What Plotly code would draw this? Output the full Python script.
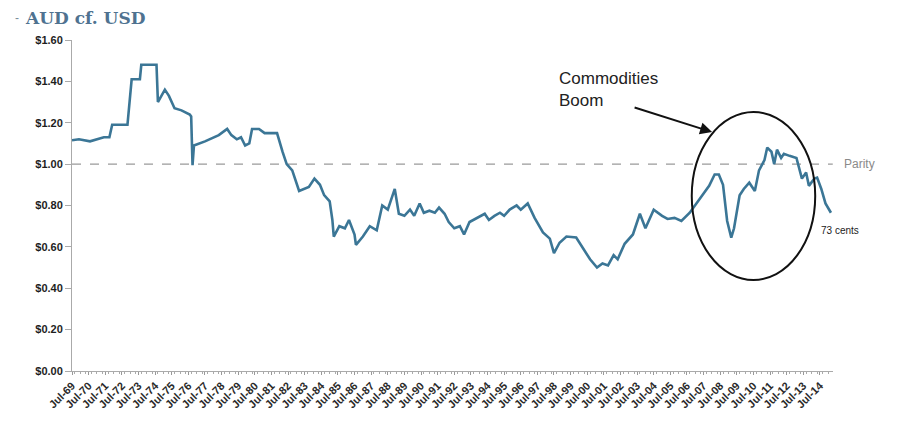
import plotly.graph_objects as go

# Monthly AUD/USD readings (US dollars per Australian dollar)
dates = [
    "1969-07", "1969-12", "1970-08", "1971-01", "1971-06", "1971-10", "1971-12",
    "1972-11", "1972-12", "1973-02", "1973-08", "1973-09", "1974-08", "1974-09",
    "1975-02", "1975-05", "1975-09", "1976-02", "1976-08", "1976-09", "1976-10",
    "1976-11", "1977-07", "1978-02", "1978-05", "1978-11", "1979-02", "1979-06",
    "1979-09", "1979-12", "1980-03", "1980-05", "1980-10", "1981-02", "1981-11",
    "1982-03", "1982-06", "1982-10", "1983-03", "1983-10", "1984-02", "1984-06",
    "1984-09", "1985-01", "1985-03", "1985-04", "1985-08", "1985-12", "1986-03",
    "1986-07", "1986-08", "1987-01", "1987-06", "1987-11", "1988-03", "1988-07",
    "1988-12", "1989-03", "1989-07", "1989-11", "1990-02", "1990-06", "1990-09",
    "1991-01", "1991-05", "1991-08", "1991-12", "1992-03", "1992-07", "1992-11",
    "1993-02", "1993-06", "1993-12", "1994-05", "1994-08", "1994-12", "1995-04",
    "1995-07", "1995-11", "1996-04", "1996-07", "1996-12", "1997-05", "1997-11",
    "1998-04", "1998-07", "1998-11", "1999-04", "1999-11", "2000-04", "2000-09",
    "2001-02", "2001-06", "2001-10", "2002-02", "2002-05", "2002-10", "2003-04",
    "2003-09", "2004-01", "2004-07", "2005-01", "2005-05", "2005-10", "2006-03",
    "2006-09", "2007-02", "2007-06", "2007-11", "2008-03", "2008-06", "2008-09",
    "2008-12", "2009-03", "2009-05", "2009-09", "2009-12", "2010-04", "2010-08",
    "2010-11", "2011-03", "2011-05", "2011-08", "2011-10", "2011-12", "2012-03",
    "2012-05", "2012-09", "2013-02", "2013-06", "2013-09", "2013-11", "2014-03",
    "2014-05", "2014-08", "2014-11", "2015-03",
]
aud_usd = [
    1.115, 1.12, 1.11, 1.12, 1.13, 1.13, 1.19,
    1.19, 1.27, 1.41, 1.41, 1.48, 1.48, 1.30,
    1.36, 1.33, 1.27, 1.26, 1.24, 1.23, 0.995,
    1.09, 1.11, 1.13, 1.14, 1.17, 1.14, 1.12,
    1.13, 1.09, 1.10, 1.17, 1.17, 1.15, 1.15,
    1.06, 1.00, 0.97, 0.87, 0.89, 0.93, 0.90,
    0.85, 0.82, 0.73, 0.65, 0.70, 0.69, 0.73,
    0.66, 0.61, 0.65, 0.70, 0.68, 0.80, 0.78,
    0.88, 0.76, 0.75, 0.78, 0.75, 0.81, 0.765,
    0.775, 0.765, 0.79, 0.76, 0.72, 0.69, 0.70,
    0.66, 0.72, 0.74, 0.76, 0.73, 0.75, 0.765,
    0.75, 0.78, 0.80, 0.78, 0.81, 0.74, 0.67,
    0.64, 0.57, 0.62, 0.65, 0.645, 0.59, 0.54,
    0.50, 0.52, 0.51, 0.56, 0.54, 0.615, 0.66,
    0.76, 0.69, 0.78, 0.75, 0.735, 0.74, 0.725,
    0.765, 0.81, 0.845, 0.895, 0.95, 0.95, 0.90,
    0.725, 0.645, 0.69, 0.85, 0.88, 0.91, 0.87,
    0.97, 1.02, 1.08, 1.06, 1.00, 1.07, 1.03,
    1.05, 1.04, 1.03, 0.93, 0.96, 0.895, 0.93,
    0.935, 0.88, 0.81, 0.765,
]

tick_years = list(range(1969, 2015))
tick_dates = [f"{y}-07-01" for y in tick_years]
tick_labels = [f"Jul-{y % 100:02d}" for y in tick_years]

y_ticks = [0.0, 0.2, 0.4, 0.6, 0.8, 1.0, 1.2, 1.4, 1.6]
y_labels = [f"${v:.2f}" for v in y_ticks]

parity = 1.00
end_label = "73 cents"

fig = go.Figure()

# Parity reference line
fig.add_trace(go.Scatter(
    x=["1969-07-01", "2015-04-10"], y=[parity, parity], mode="lines",
    line=dict(color="#9a9a9a", width=1.2, dash="dash"),
    hoverinfo="skip", showlegend=False,
))

fig.add_trace(go.Scatter(
    x=dates, y=aud_usd, mode="lines",
    line=dict(color="#3b7696", width=2.6),
    showlegend=False,
))

fig.update_layout(
    width=906, height=422,
    margin=dict(l=72, r=73, t=40, b=51),
    paper_bgcolor="white", plot_bgcolor="white",
    font=dict(family="Liberation Sans, Arial, sans-serif", color="#222"),
    xaxis=dict(
        type="date", range=["1969-07-01", "2015-04-15"],
        tickmode="array", tickvals=tick_dates, ticktext=tick_labels,
        tickangle=-45, tickfont=dict(size=11, color="#2a2a2a", weight="bold"),
        ticks="outside", ticklen=3, tickcolor="#999",
        minor=dict(dtick="M4", ticks="outside", ticklen=2, tickcolor="#aaa"),
        showline=True, linecolor="#aaa", linewidth=1,
        showgrid=False, zeroline=False, automargin=False,
    ),
    yaxis=dict(
        range=[0, 1.6], tickmode="array", tickvals=y_ticks, ticktext=y_labels,
        tickfont=dict(size=11, color="#1e1e1e", weight="bold"),
        ticks="outside", ticklen=6, tickcolor="#aaa",
        showline=True, linecolor="#aaa", linewidth=1,
        showgrid=False, zeroline=False, automargin=False,
    ),
)

# Highlight ellipse around the boom years
fig.add_shape(
    type="circle", xref="x", yref="y",
    x0="2006-10-15", x1="2014-03-20", y0=0.44, y1=1.252,
    line=dict(color="#111", width=2),
)

fig.add_annotation(
    x="2008-01-05", y=1.155, xref="x", yref="y",
    ax=-79, ay=-25, showarrow=True,
    arrowhead=2, arrowsize=1.2, arrowwidth=2, arrowcolor="#111", text="",
)
fig.add_annotation(
    x="1998-09-01", y=1.47, xref="x", yref="y",
    text="Commodities<br>Boom", showarrow=False,
    xanchor="left", yanchor="top", align="left",
    font=dict(size=17, color="#222", family="Liberation Sans, Arial, sans-serif"),
)
fig.add_annotation(
    x=1.012, y=parity, xref="paper", yref="y",
    text="Parity", showarrow=False, xanchor="left", yanchor="middle",
    font=dict(size=12, color="#8a8a8a"),
)
fig.add_annotation(
    x=0.982, y=0.68, xref="paper", yref="y",
    text=end_label, showarrow=False, xanchor="left", yanchor="middle",
    font=dict(size=10, color="#222"),
)

# Series title with its legend dash
fig.add_annotation(
    x=-0.078, y=1.066, xref="paper", yref="paper",
    text="-", showarrow=False, xanchor="left", yanchor="middle",
    font=dict(size=12, color="#7a8c9a"),
)
fig.add_annotation(
    x=-0.064, y=1.066, xref="paper", yref="paper",
    text="<b>AUD cf. USD</b>", showarrow=False, xanchor="left", yanchor="middle",
    font=dict(size=17, color="#4f7290", family="DejaVu Serif, serif"),
)

fig.write_html("out.html")
